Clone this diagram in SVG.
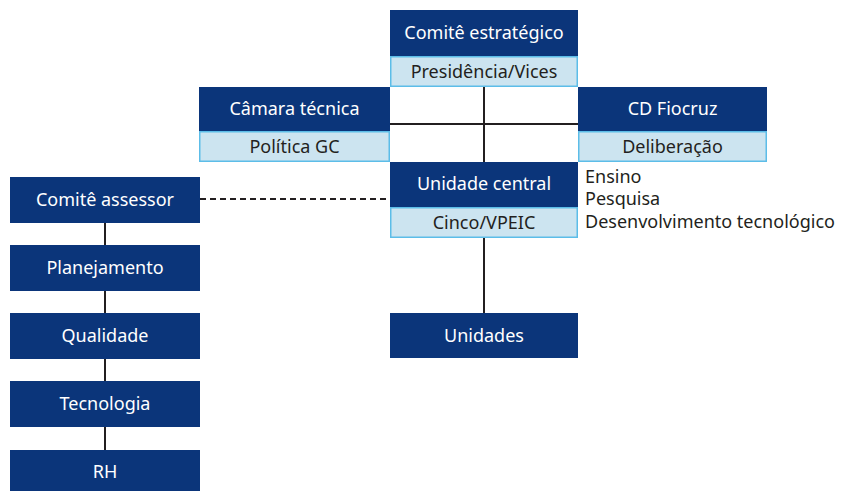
<svg xmlns="http://www.w3.org/2000/svg" width="843" height="491" viewBox="0 0 843 491">
<style>
.d{fill:#0b357a}
.l{fill:#cce4f0;stroke:#5cbde8;stroke-width:1.5}
.t{font-family:"Noto Sans","Open Sans","Liberation Sans",sans-serif;font-size:18px;text-anchor:middle}
.w{fill:#ffffff}
.k{fill:#231f20}
.s{font-family:"Noto Sans","Open Sans","Liberation Sans",sans-serif;font-size:18px;fill:#231f20}
.c{stroke:#231f20;stroke-width:2;fill:none}
</style>
<rect width="843" height="491" fill="#ffffff"/>
<g id="connectors">
<line class="c" x1="484" y1="86" x2="484" y2="162"/>
<line class="c" x1="390" y1="124" x2="578" y2="124"/>
<line class="c" x1="484" y1="238" x2="484" y2="313"/>
<line class="c" x1="200" y1="199" x2="390" y2="199" stroke-dasharray="6,4"/>
<line class="c" x1="105" y1="223" x2="105" y2="245"/>
<line class="c" x1="105" y1="291" x2="105" y2="313"/>
<line class="c" x1="105" y1="359" x2="105" y2="381"/>
<line class="c" x1="105" y1="427" x2="105" y2="450"/>
</g>
<g id="comite-estrategico">
<rect class="d" x="390" y="10" width="188" height="46"/>
<text class="t w" x="484" y="39">Comitê estratégico</text>
<rect class="l" x="390.75" y="56.75" width="186.5" height="29.5"/>
<text class="t k" x="484" y="78">Presidência/Vices</text>
</g>
<g id="camara-tecnica">
<rect class="d" x="199" y="87" width="191" height="44"/>
<text class="t w" x="294.5" y="115">Câmara técnica</text>
<rect class="l" x="199.75" y="131.75" width="189.5" height="29.5"/>
<text class="t k" x="294.5" y="153">Política GC</text>
</g>
<g id="cd-fiocruz">
<rect class="d" x="578" y="87" width="189" height="44"/>
<text class="t w" x="672.5" y="115">CD Fiocruz</text>
<rect class="l" x="578.75" y="131.75" width="187.5" height="29.5"/>
<text class="t k" x="672.5" y="153">Deliberação</text>
</g>
<g id="unidade-central">
<rect class="d" x="390" y="162" width="188" height="45"/>
<text class="t w" x="484" y="190">Unidade central</text>
<rect class="l" x="390.75" y="207.75" width="186.5" height="29.5"/>
<text class="t k" x="484" y="229">Cinco/VPEIC</text>
<text class="s" x="585" y="183">Ensino</text>
<text class="s" x="585" y="205">Pesquisa</text>
<text class="s" x="585" y="228">Desenvolvimento tecnológico</text>
</g>
<g id="unidades">
<rect class="d" x="390" y="313" width="188" height="45"/>
<text class="t w" x="484" y="342">Unidades</text>
</g>
<g id="comite-assessor">
<rect class="d" x="10" y="177" width="190" height="46"/>
<text class="t w" x="105" y="206">Comitê assessor</text>
</g>
<g id="planejamento">
<rect class="d" x="10" y="245" width="190" height="46"/>
<text class="t w" x="105" y="274">Planejamento</text>
</g>
<g id="qualidade">
<rect class="d" x="10" y="313" width="190" height="46"/>
<text class="t w" x="105" y="342">Qualidade</text>
</g>
<g id="tecnologia">
<rect class="d" x="10" y="381" width="190" height="46"/>
<text class="t w" x="105" y="410">Tecnologia</text>
</g>
<g id="rh">
<rect class="d" x="10" y="450" width="190" height="41"/>
<text class="t w" x="105" y="478">RH</text>
</g>
</svg>
